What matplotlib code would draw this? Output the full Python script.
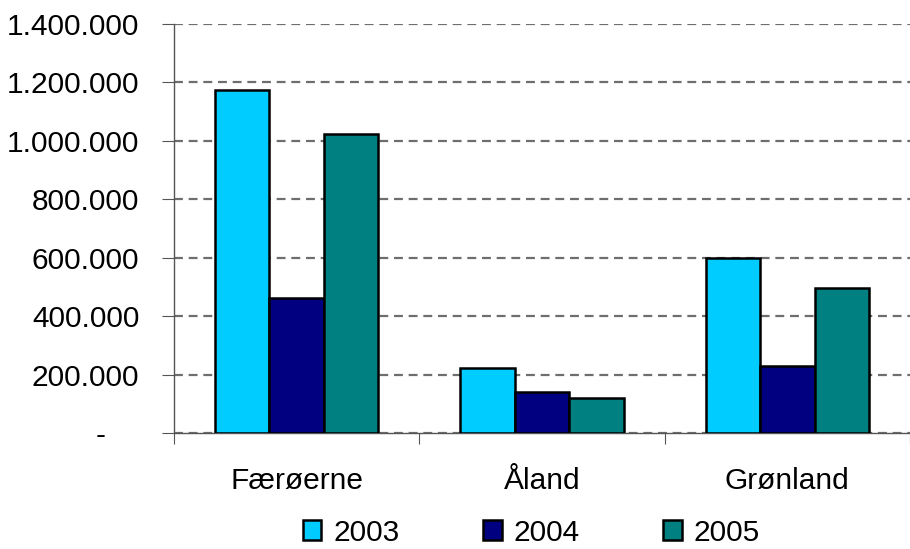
import numpy as np
import matplotlib.pyplot as plt
from matplotlib.ticker import FuncFormatter, FixedLocator

plt.rcParams['font.family'] = ['Liberation Sans', 'DejaVu Sans']

# Data
omraader = ['Færøerne', 'Åland', 'Grønland']
aar = ['2003', '2004', '2005']
v2003 = [1175000, 224000, 600000]
v2004 = [464000, 141000, 231000]
v2005 = [1024000, 122000, 498000]
farver = ['#00CCFF', '#000080', '#008080']


def tusind(v, pos):
    if v == 0:
        return '-    '
    return f'{int(v):,}'.replace(',', '.')


fig = plt.figure(figsize=(9.1, 5.49), dpi=100)
ax = fig.add_axes([174 / 910, 1 - 433.3 / 549, 1 - 174 / 910, (433.3 - 23.8) / 549])

x = np.arange(len(omraader))
bredde = 1 / 4.5
for i, (serie, navn) in enumerate(zip([v2003, v2004, v2005], aar)):
    ax.bar(x + (i - 1) * bredde, serie, bredde, color=farver[i],
           edgecolor='black', linewidth=1.8, label=navn, zorder=3)

ax.set_xlim(-0.5, len(omraader) - 0.5)
ax.set_ylim(0, 1400000)
ax.set_yticks(np.arange(0, 1400001, 200000))
ax.yaxis.set_major_formatter(FuncFormatter(tusind))
ax.grid(axis='y', color='#6e6e6e', linestyle=(0, (4, 2.6)), linewidth=1.6, zorder=0)

# kategori-grænser som hovedstreger, navne som mindre streger
ax.xaxis.set_major_locator(FixedLocator(np.arange(-0.5, len(omraader), 1.0)))
ax.set_xticklabels([])
ax.xaxis.set_minor_locator(FixedLocator(x))
ax.set_xticklabels(omraader, minor=True)
ax.tick_params(axis='x', which='minor', length=0, pad=24, labelsize=21.5)
ax.tick_params(axis='x', which='major', direction='out', length=8, color='#555555')
ax.tick_params(axis='y', direction='out', length=9, pad=16, labelsize=21.5, color='#555555')

for s in ['top', 'right']:
    ax.spines[s].set_visible(False)
for s in ['left', 'bottom']:
    ax.spines[s].set_color('#555555')
    ax.spines[s].set_linewidth(1.0)

fig.legend(loc='center', bbox_to_anchor=(0.584, 0.03), ncol=3, frameon=False,
           fontsize=21.5, handlelength=0.62, handleheight=0.62,
           handletextpad=0.4, columnspacing=2.8)

fig.savefig('out.png', dpi=100)
